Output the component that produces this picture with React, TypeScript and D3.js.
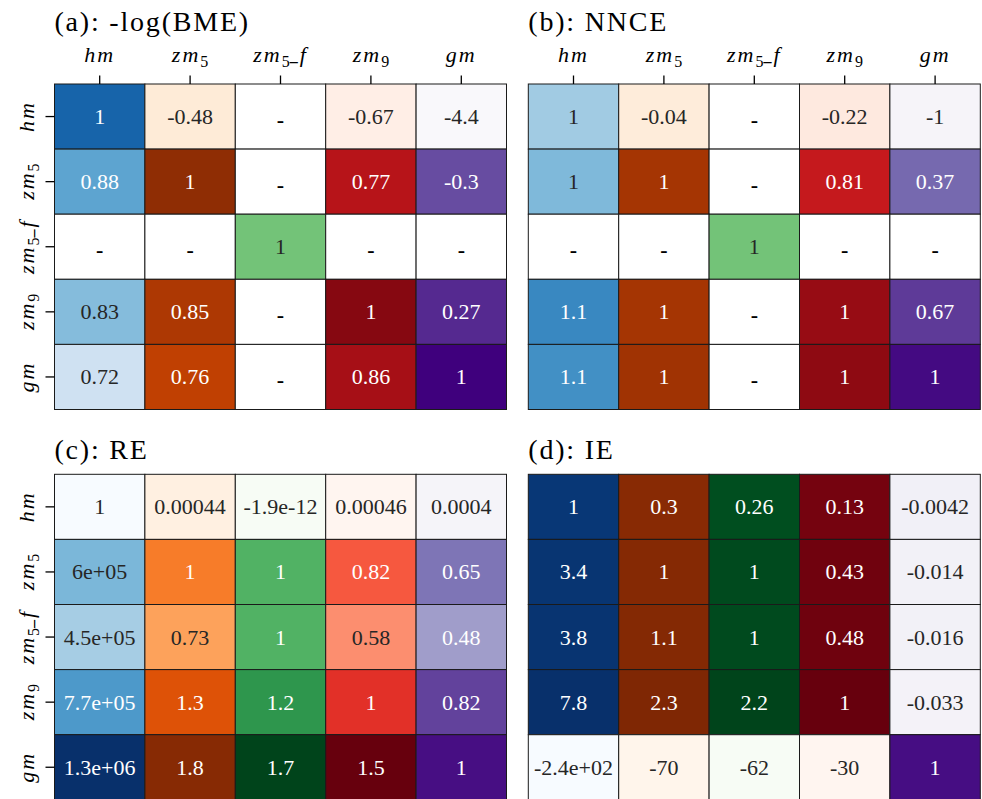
import { useEffect } from "react";
import * as d3 from "d3";

// models, same order for rows and columns
const models = ["hm", "zm5", "zm5_f", "zm9", "gm"];

// null = masked cell ("-")
const bmeValues = [
  [1, -0.48, null, -0.67, -4.4],
  [0.88, 1, null, 0.77, -0.3],
  [null, null, 1, null, null],
  [0.83, 0.85, null, 1, 0.27],
  [0.72, 0.76, null, 0.86, 1],
];
const nnceValues = [
  [1.01, -0.04, null, -0.22, -1],
  [1.04, 1, null, 0.81, 0.37],
  [null, null, 1, null, null],
  [1.11, 1, null, 1, 0.67],
  [1.1, 1.02, null, 1.03, 1],
];
const reValues = [
  [1, 0.00044, -1.9e-12, 0.00046, 0.0004],
  [6e5, 1, 1, 0.82, 0.65],
  [4.5e5, 0.73, 1, 0.58, 0.48],
  [7.7e5, 1.3, 1.2, 1, 0.82],
  [1.3e6, 1.8, 1.7, 1.5, 1],
];
const ieValues = [
  [1, 0.3, 0.26, 0.13, -0.0042],
  [3.4, 1, 1, 0.43, -0.014],
  [3.8, 1.1, 1, 0.48, -0.016],
  [7.8, 2.3, 2.2, 1, -0.033],
  [-240, -70, -62, -30, 1],
];

// per-column colour limits (null -> min/max of the column)
const bmeDomains = [[0.627, 1.093], [-0.62, 1.085], [0, 2], [-0.75, 1.12], [-4.57, 1.0]];
const nnceDomains = [[0.89, 1.223], [-0.13, 1.15], [0, 2], [-0.32, 1.15], [-1.13, 1.07]];
const reDomains = [null, [-0.08, 1.85], null, null, [-0.07, 1.05]];
const ieDomains = [null, null, null, null, [-0.12, 1.05]];

const cmaps = [
  d3.interpolateBlues,
  d3.interpolateOranges,
  d3.interpolateGreens,
  d3.interpolateReds,
  d3.interpolatePurples,
];

const W = 982;
const H = 799;
const cellW = 90.4;
const cellH = 65.1;
const FONT = "'Liberation Serif', 'Times New Roman', serif";

// python "%.2g"
const fmt = (v: number) => {
  if (v === 0) return "0";
  const [m, e] = Math.abs(v).toExponential(1).split("e");
  const exp = +e;
  const sign = v < 0 ? "-" : "";
  if (exp < -4 || exp >= 2) {
    const mant = m.replace(/\.0$/, "");
    const ee = (exp < 0 ? "-" : "+") + String(Math.abs(exp)).padStart(2, "0");
    return sign + mant + "e" + ee;
  }
  let s = Math.abs(v).toFixed(1 - exp);
  if (s.includes(".")) s = s.replace(/0+$/, "").replace(/\.$/, "");
  return sign + s;
};

const lum = (c: string) => {
  const rgb = d3.rgb(c);
  const f = (x: number) => {
    x /= 255;
    return x <= 0.03928 ? x / 12.92 : Math.pow((x + 0.055) / 1.055, 2.4);
  };
  return 0.2126 * f(rgb.r) + 0.7152 * f(rgb.g) + 0.0722 * f(rgb.b);
};

const Label = ({ name }: { name: string }) => {
  if (name === "hm" || name === "gm")
    return <tspan fontStyle="italic">{name}</tspan>;
  const sub = name.slice(2, 3);
  return (
    <>
      <tspan fontStyle="italic">zm</tspan>
      <tspan fontSize={16} dy={5} letterSpacing={0}>{sub}</tspan>
      {name.endsWith("_f") && (
        <>
          <tspan fontSize={16} dy={-6} fontWeight="bold">_</tspan>
          <tspan fontStyle="italic" dy={1}>f</tspan>
        </>
      )}
    </>
  );
};

type PanelProps = {
  title: string;
  values: (number | null)[][];
  domains: (number[] | null)[];
  x0: number;
  y0: number;
  xLabels: boolean;
  yLabels: boolean;
  titleDy: number;
};

const Panel = ({ title, values, domains, x0, y0, xLabels, yLabels, titleDy }: PanelProps) => {
  const x = d3.scaleBand().domain(models).range([x0, x0 + cellW * models.length]);
  const y = d3.scaleBand().domain(models).range([y0, y0 + cellH * models.length]);

  const colors = models.map((_, j) => {
    let dom =
      domains[j] ??
      (d3.extent(values.map((r) => r[j]).filter((v) => v != null) as number[]) as number[]);
    if (dom[0] === dom[1]) dom = [dom[0] - 1, dom[0] + 1];
    return d3.scaleSequential(cmaps[j]).domain(dom as [number, number]).clamp(true);
  });

  return (
    <g fontFamily={FONT}>
      <text x={x0} y={y0 - titleDy} fontSize={28} fill="#000" letterSpacing={1.8}>
        {title}
      </text>
      {values.map((row, i) =>
        row.map((v, j) => {
          const fill = v == null ? "#fff" : colors[j](v);
          const tc = v == null ? "#000" : lum(fill) > 0.408 ? "#262626" : "#fff";
          const cx = x(models[j])! + x.bandwidth() / 2;
          const cy = y(models[i])! + y.bandwidth() / 2;
          return (
            <g key={`${i}-${j}`}>
              <rect
                x={x(models[j])}
                y={y(models[i])}
                width={x.bandwidth()}
                height={y.bandwidth()}
                fill={fill}
                stroke="#1a1a1a"
                strokeWidth={1}
              />
              <text
                x={cx}
                y={v == null ? cy + 3 : cy}
                textAnchor="middle"
                dominantBaseline="central"
                fontSize={22}
                fontWeight={v == null ? "bold" : "normal"}
                fill={tc}
              >
                {v == null ? "-" : fmt(v)}
              </text>
            </g>
          );
        })
      )}
      {xLabels &&
        models.map((m) => {
          const cx = x(m)! + x.bandwidth() / 2;
          return (
            <g key={"x" + m}>
              <line x1={cx} x2={cx} y1={y0 - 8.5} y2={y0} stroke="#000" strokeWidth={1.3} />
              <text x={cx} y={y0 - 22} textAnchor="middle" fontSize={22} letterSpacing={2} fill="#000">
                <Label name={m} />
              </text>
            </g>
          );
        })}
      {yLabels &&
        models.map((m) => {
          const cy = y(m)! + y.bandwidth() / 2;
          return (
            <g key={"y" + m}>
              <line x1={x0 - 9} x2={x0} y1={cy} y2={cy} stroke="#000" strokeWidth={1.3} />
              <text
                transform={`translate(${x0 - 21},${cy}) rotate(-90)`}
                textAnchor="middle"
                fontSize={22}
                letterSpacing={2}
                fill="#000"
              >
                <Label name={m} />
              </text>
            </g>
          );
        })}
    </g>
  );
};

export default function App() {
  useEffect(() => {
    document.body.style.margin = "0";
  }, []);
  const leftX = 54.5;
  const rightX = 528.3;
  const topY = 84;
  const bottomY = 474.3;
  return (
    <svg width={W} height={H} style={{ display: "block", background: "#fff" }}>
      <Panel title="(a): -log(BME)" values={bmeValues} domains={bmeDomains} x0={leftX} y0={topY} xLabels yLabels titleDy={53} />
      <Panel title="(b): NNCE" values={nnceValues} domains={nnceDomains} x0={rightX} y0={topY} xLabels yLabels={false} titleDy={53} />
      <Panel title="(c): RE" values={reValues} domains={reDomains} x0={leftX} y0={bottomY} xLabels={false} yLabels titleDy={15} />
      <Panel title="(d): IE" values={ieValues} domains={ieDomains} x0={rightX} y0={bottomY} xLabels={false} yLabels={false} titleDy={15} />
    </svg>
  );
}
